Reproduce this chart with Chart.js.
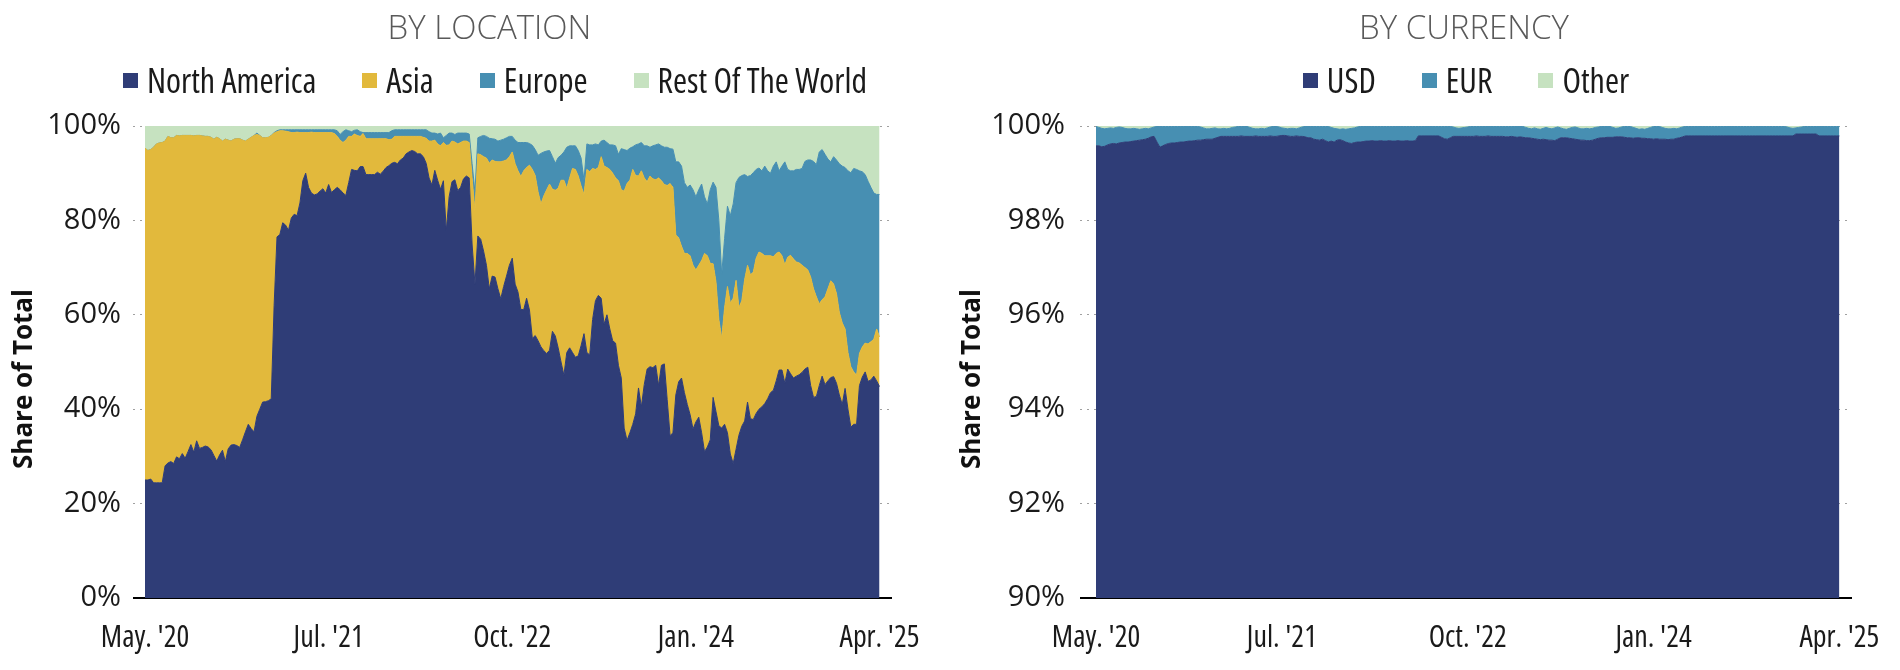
<!DOCTYPE html>
<html>
<head>
<meta charset="utf-8">
<script src="https://cdn.jsdelivr.net/npm/chart.js@4.4.1/dist/chart.umd.min.js"></script>
<style>
  html, body { margin: 0; padding: 0; background: #fff; width: 1900px; height: 670px; overflow: hidden; position: relative; }
  canvas { position: absolute; top: 0; }
  .title { position: absolute; top: 10px; text-align: center; font-family: 'Open Sans', sans-serif; font-weight: 300;
           font-size: 33px; line-height: 33px; color: #595959; white-space: nowrap; }
  .legend { position: absolute; top: 63px; display: flex; justify-content: center; align-items: center;
            font-family: 'Open Sans', sans-serif; font-stretch: condensed; font-size: 34px; line-height: 34px; color: #1a1a1a; }
  .legend .item { display: flex; align-items: center; margin: 0 23px; white-space: nowrap; }
  .legend .swatch { display: inline-block; width: 15px; height: 15px; margin-right: 9px; }
  .ytitle { position: absolute; width: 240px; height: 30px; line-height: 30px; text-align: center;
            font-family: 'Open Sans', sans-serif; font-weight: 700; font-size: 26px; color: #111;
            transform: rotate(-90deg); transform-origin: 50% 50%; white-space: nowrap; }
</style>
</head>
<body>
<canvas id="byLocation" width="984" height="670" style="left:0px"></canvas>
<canvas id="byCurrency" width="1030" height="670" style="left:950px"></canvas>
<div class="title" style="left:0px;width:979px">BY LOCATION</div>
<div class="title" style="left:950px;width:1028px">BY CURRENCY</div>
<div class="legend" id="legendLocation" style="left:0px;width:990px"></div>
<div class="legend" id="legendCurrency" style="left:950px;width:1032px"></div>
<div class="ytitle" style="left:-98px;top:364px">Share of Total</div>
<div class="ytitle" style="left:850px;top:364px">Share of Total</div>
<script>
// Weekly observations, May 2020 - Apr 2025 (plus a few empty weeks of axis run-out)
const weekCount = 261;
const firstWeek = Date.UTC(2020, 4, 1);
const weeks = Array.from({ length: weekCount }, (_, i) =>
  new Date(firstWeek + i * 7 * 86400000).toISOString().slice(0, 10));

const tickLabels = ["May. '20", "Jul. '21", "Oct. '22", "Jan. '24", "Apr. '25"];
const tickStep = 64;

// Share of total by location (%)
const northAmerica = [
  25.0,25.0,25.2,24.4,24.4,24.4,24.4,28.0,28.6,28.9,
  28.5,29.9,29.5,30.6,29.6,31.0,32.5,30.9,33.3,31.7,
  31.9,32.2,32.0,31.4,30.2,29.0,30.3,31.3,28.9,31.6,
  32.4,32.5,32.3,31.9,33.5,35.2,36.8,35.9,35.2,38.5,
  40.0,41.5,41.6,41.8,42.2,62.0,76.5,77.0,79.5,79.0,
  77.9,80.5,81.3,81.0,83.7,88.4,90.0,87.0,85.8,85.4,
  85.6,86.2,86.7,85.8,87.6,85.9,86.5,87.0,86.5,85.8,
  85.3,88.0,90.8,90.6,90.5,91.4,91.4,89.7,89.7,89.7,
  89.7,90.2,89.8,90.4,91.2,91.6,92.1,92.3,92.0,92.8,
  93.2,94.1,94.5,94.8,94.6,94.1,94.1,93.5,92.1,89.0,
  87.5,90.6,88.5,86.6,88.4,77.8,85.0,88.2,88.6,86.3,
  87.0,88.8,89.4,89.0,75.0,66.5,76.7,76.0,73.5,70.5,
  65.5,68.2,68.0,65.5,63.4,66.0,68.2,70.5,72.0,66.5,
  64.8,61.1,61.1,63.5,61.0,55.0,55.6,54.5,53.2,52.4,
  51.8,52.5,56.5,55.5,53.0,50.0,47.2,52.0,53.0,52.0,
  51.0,51.3,53.5,56.0,52.0,51.5,59.0,63.0,64.1,63.5,
  58.0,60.0,57.0,54.5,54.0,49.3,46.6,36.0,33.4,35.0,
  36.8,39.0,44.5,40.5,45.2,48.5,49.0,48.8,49.3,45.0,
  49.3,49.6,42.0,34.4,35.0,43.0,45.8,46.6,43.5,41.0,
  38.8,35.8,37.3,38.3,35.0,31.0,32.0,33.5,42.5,39.5,
  36.5,36.0,36.8,35.0,30.5,28.5,31.5,34.5,36.4,37.5,
  41.5,38.0,37.8,39.1,40.0,40.5,41.2,42.2,43.5,44.0,
  46.0,48.3,48.3,45.5,48.5,47.5,46.6,47.0,47.3,47.8,
  48.5,48.9,45.0,42.5,42.7,45.0,47.0,45.2,46.0,46.7,
  46.9,45.5,43.0,41.0,44.4,40.0,36.2,36.8,36.8,45.0,
  46.8,47.9,45.9,46.2,47.0,46.0,44.8
];
const asia = [
  70.3,69.8,69.8,71.1,71.8,72.0,72.1,68.8,69.2,68.6,
  69.0,68.1,68.4,67.4,68.4,67.0,65.5,67.0,64.7,66.3,
  66.0,65.6,65.8,66.2,67.0,68.6,67.0,65.5,68.3,65.4,
  64.4,64.7,65.0,65.4,63.5,61.6,60.4,61.7,62.8,59.7,
  58.0,56.0,55.9,55.8,55.8,36.5,22.3,22.0,19.5,19.9,
  20.9,18.1,17.3,17.7,14.9,10.2,8.6,11.6,12.9,13.2,
  13.0,12.4,11.9,12.8,11.0,12.7,11.9,10.8,10.5,10.7,
  11.7,9.8,7.0,7.7,7.5,6.4,7.0,7.6,7.6,7.6,
  7.6,7.1,7.5,6.9,6.1,5.5,5.1,5.5,5.8,5.0,
  4.6,3.7,3.3,3.0,3.2,3.7,3.7,4.1,5.3,7.8,
  9.3,6.4,7.7,9.2,8.1,18.1,11.0,8.6,8.0,9.9,
  9.5,8.0,7.4,7.5,14.0,15.5,17.4,17.9,20.0,22.7,
  26.6,24.6,24.5,26.9,29.0,26.6,24.6,23.0,22.5,25.5,
  25.7,28.2,29.4,27.7,30.7,35.8,33.9,31.5,30.3,32.8,
  34.7,35.2,30.1,30.9,33.8,38.5,41.3,34.8,36.0,39.0,
  39.8,38.1,33.8,29.5,38.8,38.8,32.0,27.8,27.1,30.0,
  33.5,31.2,33.8,35.5,35.0,39.1,39.9,50.2,54.4,53.5,
  54.0,50.5,44.9,50.0,43.8,39.7,40.4,40.0,39.3,44.0,
  39.1,38.0,45.4,53.4,52.0,33.9,30.5,27.9,29.5,32.0,
  33.7,34.7,32.2,32.2,36.5,42.0,40.5,37.4,28.3,27.5,
  22.5,19.0,24.7,31.0,32.0,35.0,35.8,27.0,26.6,30.0,
  29.0,30.5,31.2,32.9,33.3,32.5,31.3,30.3,29.0,28.3,
  27.0,25.0,24.2,25.1,23.7,25.1,25.2,24.2,23.7,22.7,
  21.5,20.6,23.0,23.0,21.1,17.3,16.2,18.6,19.5,20.5,
  19.6,19.0,17.5,17.3,12.6,12.0,12.8,11.1,10.4,6.8,
  6.4,6.1,7.9,8.1,7.8,11.0,10.5
];
const europe = [
  0,0,0,0,0,0,0,0,0,0,
  0,0,0,0,0,0,0,0,0,0,
  0,0,0,0,0,0,0,0,0,0,
  0,0,0,0,0,0,0,0,0,0.3,
  0,0,0,0,0,0.1,0.2,0.2,0.2,0.3,
  0.4,0.6,0.6,0.5,0.6,0.6,0.6,0.6,0.5,0.6,
  0.6,0.6,0.6,0.6,0.6,0.6,0.8,1.2,1.2,2.3,
  2.2,1.2,1.0,0.8,1.2,1.0,0.2,1.3,1.3,1.3,
  1.3,1.3,1.3,1.3,1.3,1.5,1.8,1.4,1.4,1.4,
  1.4,1.4,1.4,1.4,1.4,1.4,1.4,1.6,1.8,2.0,
  1.7,1.5,2.1,2.7,1.0,2.1,2.5,1.7,1.6,2.3,
  2.0,1.7,1.7,1.8,3.0,4.0,3.4,3.9,4.5,4.6,
  5.3,4.5,4.7,4.4,4.6,4.6,4.7,4.3,3.3,5.0,
  6.0,7.2,6.0,5.3,4.6,5.1,5.5,7.8,10.7,9.3,
  8.2,7.1,6.9,5.7,6.5,5.3,6.0,8.7,6.8,4.8,
  5.0,5.4,5.9,3.0,5.4,5.7,5.0,5.4,4.8,3.3,
  5.5,5.3,5.2,6.0,6.8,5.6,8.7,8.8,7.0,6.8,
  4.8,6.5,6.8,6.0,6.8,7.6,6.1,7.0,7.4,7.2,
  7.4,7.9,8.1,7.4,8.1,15.5,16.1,17.0,15.0,14.0,
  15.0,16.0,15.5,16.0,16.2,12.0,11.0,15.6,17.3,20.0,
  21.0,13.5,14.7,17.0,18.5,20.0,20.7,27.6,26.5,22.2,
  18.8,21.0,21.1,18.8,17.8,17.5,19.0,18.0,17.5,19.2,
  19.4,17.2,19.0,21.8,18.6,17.9,18.7,19.6,19.8,20.5,
  22.5,23.3,24.8,27.0,28.0,32.2,31.8,30.2,27.5,25.2,
  27.0,28.3,31.5,33.2,34.2,38.5,41.1,43.1,43.6,38.7,
  37.1,35.7,34.5,32.7,31.0,28.5,30.2
];
const restOfWorld = [
  4.7,5.2,5.0,4.5,3.8,3.6,3.5,3.2,2.2,2.5,
  2.5,2.0,2.1,2.0,2.0,2.0,2.0,2.1,2.0,2.0,
  2.1,2.2,2.2,2.4,2.8,2.4,2.7,3.2,2.8,3.0,
  3.2,2.8,2.7,2.7,3.0,3.2,2.8,2.4,2.0,1.5,
  2.0,2.5,2.5,2.4,2.0,1.4,1.0,0.8,0.8,0.8,
  0.8,0.8,0.8,0.8,0.8,0.8,0.8,0.8,0.8,0.8,
  0.8,0.8,0.8,0.8,0.8,0.8,0.8,1.0,1.8,1.2,
  0.8,1.0,1.2,0.9,0.8,1.2,1.4,1.4,1.4,1.4,
  1.4,1.4,1.4,1.4,1.4,1.4,1.0,0.8,0.8,0.8,
  0.8,0.8,0.8,0.8,0.8,0.8,0.8,0.8,0.8,1.2,
  1.5,1.5,1.7,1.5,2.5,2.0,1.5,1.5,1.8,1.5,
  1.5,1.5,1.5,1.7,8.0,14.0,2.5,2.2,2.0,2.2,
  2.6,2.7,2.8,3.2,3.0,2.8,2.5,2.2,2.2,3.0,
  3.5,3.5,3.5,3.5,3.7,4.1,5.0,6.2,5.8,5.5,
  5.3,5.2,6.5,7.9,6.7,6.2,5.5,4.5,4.2,4.2,
  4.2,5.2,6.8,11.5,3.8,4.0,4.0,3.8,4.0,3.2,
  3.0,3.5,4.0,4.0,4.2,6.0,4.8,5.0,5.2,4.7,
  4.4,4.0,3.8,3.5,4.2,4.2,4.5,4.2,4.0,3.8,
  4.2,4.5,4.5,4.8,4.9,7.6,7.6,8.5,12.0,13.0,
  12.5,13.5,15.0,13.5,12.3,15.0,16.5,13.5,11.9,13.0,
  20.0,31.5,23.8,17.0,19.0,16.5,12.0,10.9,10.5,10.3,
  10.7,10.5,9.9,9.2,8.9,9.5,8.5,9.5,10.0,8.5,
  7.6,9.5,8.5,7.6,9.2,9.5,9.5,9.2,9.2,9.0,
  7.5,7.2,7.2,7.5,8.2,5.5,5.0,6.0,7.0,7.6,
  6.5,7.2,8.0,8.5,8.8,9.5,9.9,9.0,9.2,9.5,
  9.7,10.3,11.7,13.0,14.2,14.5,14.5
];

// Share of total by currency (%)
const usd = [
  99.58,99.58,99.56,99.57,99.60,99.62,99.63,99.62,99.64,99.65,
  99.66,99.66,99.67,99.68,99.69,99.70,99.71,99.72,99.74,99.77,
  99.78,99.66,99.55,99.58,99.61,99.63,99.64,99.64,99.65,99.66,
  99.66,99.67,99.68,99.68,99.69,99.70,99.70,99.71,99.72,99.72,
  99.72,99.74,99.76,99.78,99.78,99.78,99.78,99.78,99.78,99.78,
  99.79,99.78,99.78,99.78,99.78,99.79,99.78,99.78,99.78,99.78,
  99.79,99.78,99.78,99.79,99.80,99.80,99.79,99.78,99.78,99.79,
  99.78,99.78,99.77,99.75,99.75,99.72,99.71,99.70,99.72,99.69,
  99.66,99.68,99.66,99.70,99.71,99.69,99.66,99.64,99.63,99.65,
  99.66,99.66,99.67,99.68,99.68,99.69,99.68,99.68,99.69,99.68,
  99.68,99.69,99.68,99.68,99.69,99.68,99.68,99.69,99.68,99.68,
  99.69,99.79,99.79,99.79,99.79,99.79,99.79,99.79,99.79,99.76,
  99.73,99.72,99.75,99.78,99.78,99.78,99.78,99.78,99.78,99.78,
  99.78,99.79,99.78,99.78,99.78,99.79,99.78,99.78,99.78,99.78,
  99.78,99.77,99.77,99.78,99.77,99.76,99.77,99.76,99.75,99.75,
  99.74,99.73,99.72,99.71,99.72,99.71,99.70,99.70,99.69,99.72,
  99.75,99.75,99.75,99.74,99.73,99.72,99.71,99.70,99.70,99.69,
  99.69,99.70,99.72,99.74,99.75,99.75,99.76,99.76,99.76,99.77,
  99.77,99.77,99.76,99.75,99.75,99.74,99.75,99.75,99.74,99.74,
  99.73,99.73,99.72,99.73,99.72,99.72,99.72,99.71,99.72,99.72,
  99.74,99.75,99.77,99.79,99.79,99.79,99.79,99.79,99.79,99.79,
  99.79,99.79,99.79,99.79,99.79,99.79,99.79,99.79,99.79,99.79,
  99.79,99.79,99.79,99.79,99.79,99.79,99.79,99.79,99.79,99.79,
  99.79,99.79,99.79,99.79,99.79,99.79,99.79,99.79,99.79,99.79,
  99.79,99.83,99.83,99.83,99.83,99.83,99.83,99.83,99.83,99.79,
  99.79,99.79,99.79,99.79,99.79,99.79,99.79
];
const eur = [
  0.41,0.39,0.39,0.37,0.35,0.34,0.32,0.35,0.34,0.32,
  0.29,0.28,0.27,0.27,0.25,0.23,0.23,0.23,0.20,0.19,
  0.20,0.33,0.44,0.41,0.38,0.36,0.35,0.35,0.34,0.33,
  0.33,0.32,0.31,0.31,0.30,0.29,0.28,0.25,0.22,0.22,
  0.23,0.22,0.18,0.16,0.17,0.16,0.17,0.19,0.20,0.21,
  0.20,0.21,0.21,0.19,0.17,0.15,0.16,0.17,0.16,0.18,
  0.19,0.21,0.21,0.19,0.16,0.15,0.15,0.17,0.17,0.15,
  0.18,0.20,0.22,0.24,0.24,0.27,0.28,0.29,0.27,0.30,
  0.33,0.29,0.29,0.24,0.22,0.25,0.27,0.30,0.32,0.31,
  0.32,0.33,0.32,0.31,0.31,0.30,0.31,0.31,0.30,0.31,
  0.31,0.30,0.31,0.31,0.30,0.31,0.31,0.30,0.31,0.31,
  0.30,0.20,0.20,0.20,0.20,0.20,0.20,0.20,0.20,0.23,
  0.26,0.27,0.24,0.20,0.18,0.17,0.18,0.19,0.20,0.21,
  0.21,0.20,0.21,0.21,0.21,0.20,0.21,0.21,0.21,0.21,
  0.21,0.22,0.22,0.21,0.22,0.23,0.22,0.23,0.22,0.20,
  0.20,0.23,0.22,0.22,0.23,0.26,0.25,0.24,0.27,0.26,
  0.21,0.19,0.18,0.21,0.24,0.26,0.25,0.24,0.24,0.26,
  0.25,0.25,0.25,0.24,0.24,0.24,0.23,0.23,0.21,0.18,
  0.19,0.21,0.23,0.24,0.24,0.23,0.20,0.18,0.20,0.19,
  0.22,0.24,0.27,0.26,0.27,0.25,0.23,0.23,0.22,0.23,
  0.20,0.21,0.21,0.20,0.20,0.20,0.20,0.20,0.20,0.20,
  0.20,0.20,0.20,0.20,0.20,0.20,0.20,0.20,0.20,0.20,
  0.20,0.20,0.20,0.20,0.20,0.20,0.20,0.20,0.20,0.20,
  0.20,0.20,0.20,0.20,0.20,0.20,0.20,0.20,0.19,0.17,
  0.16,0.13,0.14,0.15,0.16,0.16,0.16,0.16,0.16,0.20,
  0.20,0.20,0.20,0.20,0.20,0.20,0.20
];
const otherCcy = [
  0.01,0.03,0.05,0.06,0.05,0.04,0.05,0.03,0.02,0.03,
  0.05,0.06,0.06,0.05,0.06,0.07,0.06,0.05,0.06,0.04,
  0.02,0.01,0.01,0.01,0.01,0.01,0.01,0.01,0.01,0.01,
  0.01,0.01,0.01,0.01,0.01,0.01,0.02,0.04,0.06,0.06,
  0.05,0.04,0.06,0.06,0.05,0.06,0.05,0.03,0.02,0.01,
  0.01,0.01,0.01,0.03,0.05,0.06,0.06,0.05,0.06,0.04,
  0.02,0.01,0.01,0.02,0.04,0.05,0.06,0.05,0.05,0.06,
  0.04,0.02,0.01,0.01,0.01,0.01,0.01,0.01,0.01,0.01,
  0.01,0.03,0.05,0.06,0.07,0.06,0.07,0.06,0.05,0.04,
  0.02,0.01,0.01,0.01,0.01,0.01,0.01,0.01,0.01,0.01,
  0.01,0.01,0.01,0.01,0.01,0.01,0.01,0.01,0.01,0.01,
  0.01,0.01,0.01,0.01,0.01,0.01,0.01,0.01,0.01,0.01,
  0.01,0.01,0.01,0.02,0.04,0.05,0.04,0.03,0.02,0.01,
  0.01,0.01,0.01,0.01,0.01,0.01,0.01,0.01,0.01,0.01,
  0.01,0.01,0.01,0.01,0.01,0.01,0.01,0.01,0.03,0.05,
  0.06,0.04,0.06,0.07,0.05,0.03,0.05,0.06,0.04,0.02,
  0.04,0.06,0.07,0.05,0.03,0.02,0.04,0.06,0.06,0.05,
  0.06,0.05,0.03,0.02,0.01,0.01,0.01,0.01,0.03,0.05,
  0.04,0.02,0.01,0.01,0.01,0.03,0.05,0.07,0.06,0.07,
  0.05,0.03,0.01,0.01,0.01,0.03,0.05,0.06,0.06,0.05,
  0.06,0.04,0.02,0.01,0.01,0.01,0.01,0.01,0.01,0.01,
  0.01,0.01,0.01,0.01,0.01,0.01,0.01,0.01,0.01,0.01,
  0.01,0.01,0.01,0.01,0.01,0.01,0.01,0.01,0.01,0.01,
  0.01,0.01,0.01,0.01,0.01,0.01,0.01,0.01,0.02,0.04,
  0.05,0.04,0.03,0.02,0.01,0.01,0.01,0.01,0.01,0.01,
  0.01,0.01,0.01,0.01,0.01,0.01,0.01
];

const NAVY = '#2f3d77', GOLD = '#e2b93c', STEEL = '#478fb2', MINT = '#c6e2c0';
const SANS = "'Open Sans', sans-serif";

function areaSet(label, data, color, fill) {
  return { label, data, backgroundColor: color, borderColor: color, borderWidth: 1,
           pointRadius: 0, pointHoverRadius: 0, tension: 0, fill };
}

function buildChart(canvasId, legendId, opts) {
  const base = opts.min;
  const isBase = (c) => c.tick && c.tick.value === base;
  const chart = new Chart(document.getElementById(canvasId), {
    type: 'line',
    data: { labels: weeks, datasets: opts.datasets },
    options: {
      responsive: false,
      animation: false,
      events: [],
      layout: { padding: { left: 0, right: opts.padRight, top: 126, bottom: 0 } },
      plugins: {
        legend: { display: false },
        tooltip: { enabled: false },
        title: { display: false }
      },
      scales: {
        x: {
          type: 'category',
          z: 1,
          grid: { display: false },
          border: { display: true, color: '#000', width: 2 },
          ticks: {
            autoSkip: false, maxRotation: 0, minRotation: 0, padding: 14,
            color: '#1a1a1a', font: { family: SANS, size: 30, weight: 'normal condensed', lineHeight: 1.2 },
            callback: (value, index) =>
              (index % tickStep === 0 && index / tickStep < tickLabels.length) ? tickLabels[index / tickStep] : null
          }
        },
        y: {
          stacked: true,
          min: opts.min, max: opts.max,
          afterFit: (scale) => { scale.width = opts.axisWidth; },
          title: { display: false },
          grid: {
            color: (c) => isBase(c) ? '#000' : '#a0a0a0',
            lineWidth: (c) => isBase(c) ? 2 : 1,
            tickLength: opts.tickLength,
            tickColor: (c) => isBase(c) ? '#000' : '#a0a0a0',
            tickWidth: (c) => isBase(c) ? 2 : 1,
            tickBorderDash: (c) => isBase(c) ? [] : [2, 5]
          },
          border: { display: false, dash: (c) => isBase(c) ? [] : [2, 5] },
          ticks: {
            stepSize: opts.step, padding: opts.tickPad, color: '#1a1a1a',
            font: { family: SANS, size: 29, weight: 'normal', lineHeight: 1.2 },
            callback: (v) => v + '%'
          }
        }
      }
    }
  });

  // Legend row built from the chart's own datasets
  const legend = document.getElementById(legendId);
  chart.data.datasets.forEach((ds) => {
    const item = document.createElement('span');
    item.className = 'item';
    const sw = document.createElement('span');
    sw.className = 'swatch';
    sw.style.background = ds.backgroundColor;
    item.appendChild(sw);
    item.appendChild(document.createTextNode(ds.label));
    legend.appendChild(item);
  });
  return chart;
}

buildChart('byLocation', 'legendLocation', {
  min: 0, max: 100, step: 20,
  axisWidth: 145, padRight: 93, tickLength: 12, tickPad: 12,
  datasets: [
    areaSet('North America', northAmerica, NAVY, 'origin'),
    areaSet('Asia', asia, GOLD, '-1'),
    areaSet('Europe', europe, STEEL, '-1'),
    areaSet('Rest Of The World', restOfWorld, MINT, '-1')
  ]
});

buildChart('byCurrency', 'legendCurrency', {
  min: 90, max: 100, step: 2,
  axisWidth: 146, padRight: 129, tickLength: 16, tickPad: 15,
  datasets: [
    areaSet('USD', usd, NAVY, 'origin'),
    areaSet('EUR', eur, STEEL, '-1'),
    areaSet('Other', otherCcy, MINT, '-1')
  ]
});
</script>
</body>
</html>
